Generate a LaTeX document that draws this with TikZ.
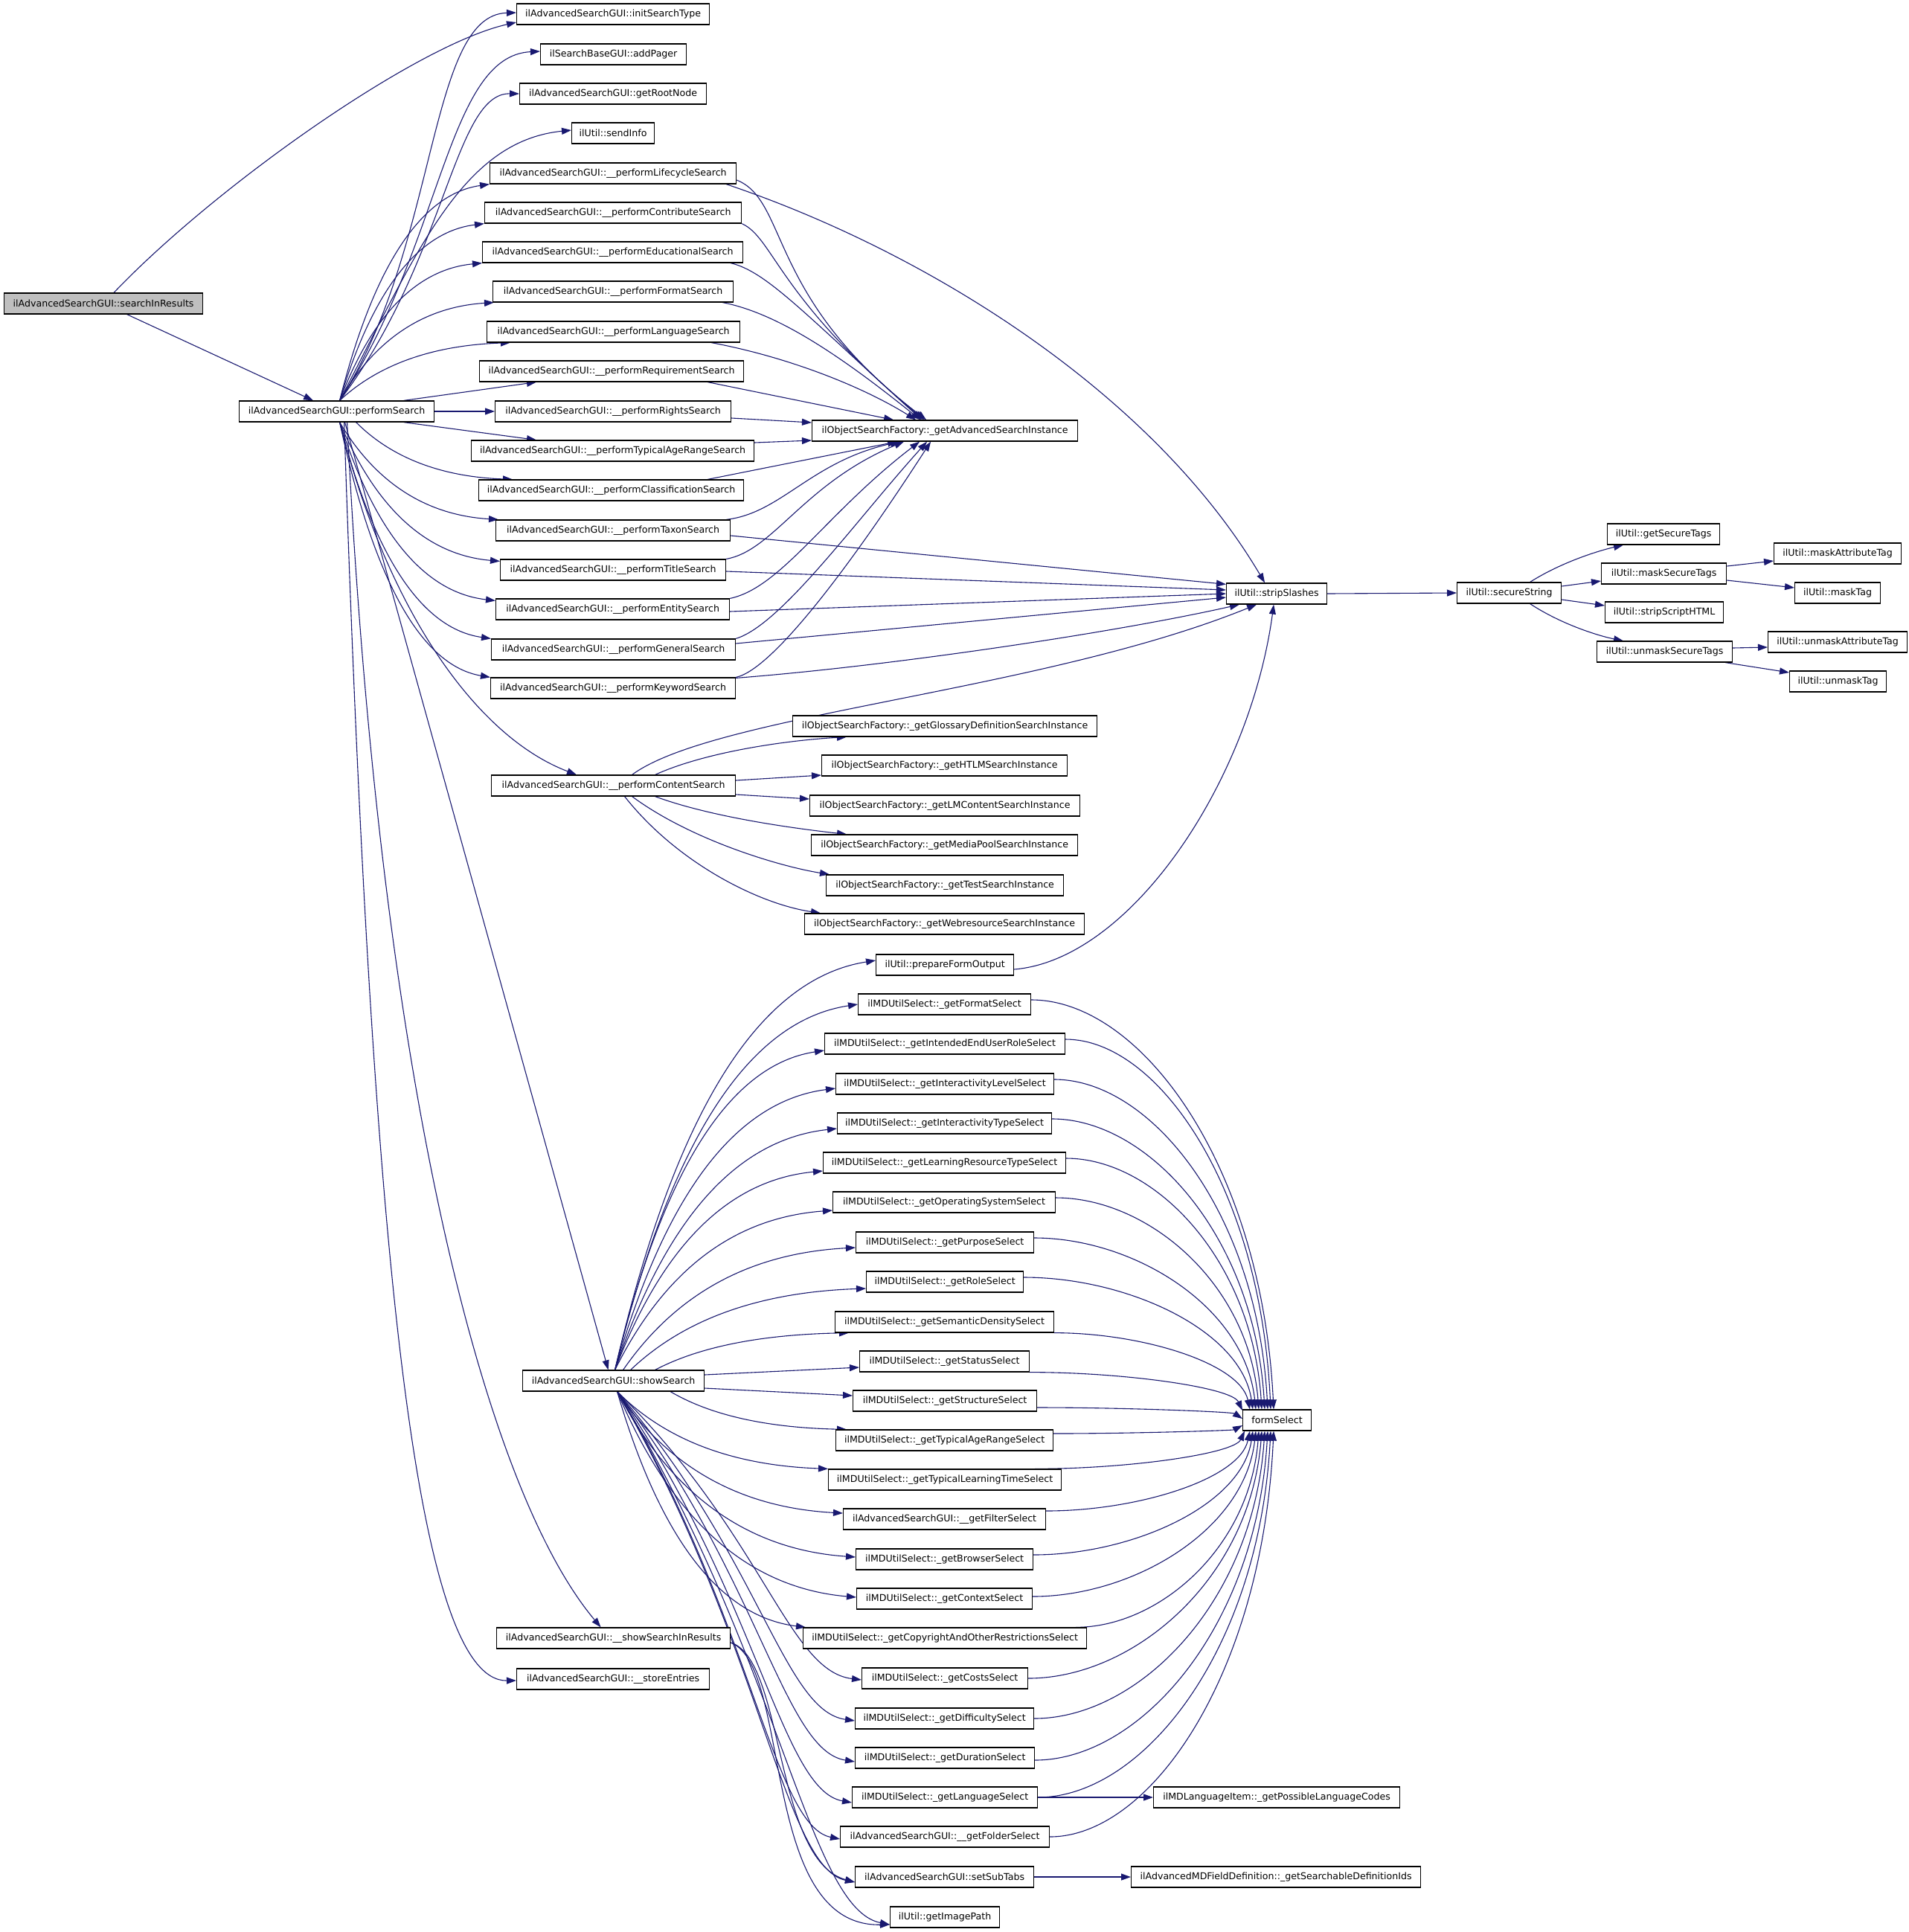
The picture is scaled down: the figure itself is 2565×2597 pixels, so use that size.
\documentclass[tikz,border=0pt]{standalone}
\usepackage{fontspec}
\setmainfont{DejaVu Sans}
\usetikzlibrary{arrows.meta, calc, backgrounds}
\definecolor{edgeblue}{HTML}{191970}
\definecolor{rootgray}{HTML}{BFBFBF}

\begin{document}
\begin{tikzpicture}[
    x=1pt, y=1pt,
    fnbox/.style={rectangle, draw=black, fill=white, line width=1.2pt, anchor=west, minimum height=28pt, inner sep=0pt, font=\fontsize{12.6}{15}\selectfont},
    rootbox/.style={fnbox, fill=rootgray},
    arrow/.style={draw=edgeblue, line width=1.1pt, -{Triangle[length=13pt,width=9pt]}},
    spline/.style n args={4}{to path={let \p1=(\tikztostart), \p2=(\tikztotarget) in
        .. controls ({\x1+#1*(\x2-\x1)},{\y1+#2*(\y2-\y1)}) and ({\x2-#3*(\x2-\x1)},{\y2-#4*(\y2-\y1)}) .. (\p2)}},
    fan/.style={spline={0.2}{0.55}{0.5}{0.05}},
    dive/.style={spline={0.6}{0.5}{0.3}{0.03}},
    drop/.style={spline={0.45}{0}{0.05}{0.6}}
]
\useasboundingbox (0,0) rectangle (2565,-2597);

% Caller and its direct callee
\node[rootbox, minimum width=267pt] (root) at (5,-408) {ilAdvancedSearchGUI::searchInResults};
\node[fnbox, minimum width=262pt] (perf) at (321,-553) {ilAdvancedSearchGUI::performSearch};

% Column 3: called by performSearch
\node[fnbox, minimum width=259pt] (initSearchType) at (694,-19) {ilAdvancedSearchGUI::initSearchType};
\node[fnbox, minimum width=196pt] (addPager) at (726,-73) {ilSearchBaseGUI::addPager};
\node[fnbox, minimum width=251pt] (getRootNode) at (698,-126) {ilAdvancedSearchGUI::getRootNode};
\node[fnbox, minimum width=111pt] (sendInfo) at (768,-179) {ilUtil::sendInfo};
\node[fnbox, minimum width=331pt] (pLifecycle) at (658,-233) {ilAdvancedSearchGUI::\_\_performLifecycleSearch};
\node[fnbox, minimum width=345pt] (pContribute) at (651,-286) {ilAdvancedSearchGUI::\_\_performContributeSearch};
\node[fnbox, minimum width=350pt] (pEducational) at (648,-339) {ilAdvancedSearchGUI::\_\_performEducationalSearch};
\node[fnbox, minimum width=323pt] (pFormat) at (662,-392) {ilAdvancedSearchGUI::\_\_performFormatSearch};
\node[fnbox, minimum width=340pt] (pLanguage) at (654,-446) {ilAdvancedSearchGUI::\_\_performLanguageSearch};
\node[fnbox, minimum width=355pt] (pRequirement) at (644,-499) {ilAdvancedSearchGUI::\_\_performRequirementSearch};
\node[fnbox, minimum width=317pt] (pRights) at (665,-553) {ilAdvancedSearchGUI::\_\_performRightsSearch};
\node[fnbox, minimum width=380pt] (pTypicalAge) at (633,-606) {ilAdvancedSearchGUI::\_\_performTypicalAgeRangeSearch};
\node[fnbox, minimum width=356pt] (pClassification) at (643,-659) {ilAdvancedSearchGUI::\_\_performClassificationSearch};
\node[fnbox, minimum width=315pt] (pTaxon) at (666,-713) {ilAdvancedSearchGUI::\_\_performTaxonSearch};
\node[fnbox, minimum width=303pt] (pTitle) at (672,-766) {ilAdvancedSearchGUI::\_\_performTitleSearch};
\node[fnbox, minimum width=314pt] (pEntity) at (666,-819) {ilAdvancedSearchGUI::\_\_performEntitySearch};
\node[fnbox, minimum width=328pt] (pGeneral) at (660,-873) {ilAdvancedSearchGUI::\_\_performGeneralSearch};
\node[fnbox, minimum width=329pt] (pKeyword) at (659,-925) {ilAdvancedSearchGUI::\_\_performKeywordSearch};
\node[fnbox, minimum width=328pt] (pContent) at (660,-1056) {ilAdvancedSearchGUI::\_\_performContentSearch};
\node[fnbox, minimum width=244pt] (showSearch) at (702,-1856) {ilAdvancedSearchGUI::showSearch};
\node[fnbox, minimum width=314pt] (showSearchInResults) at (667,-2202) {ilAdvancedSearchGUI::\_\_showSearchInResults};
\node[fnbox, minimum width=259pt] (storeEntries) at (694,-2257) {ilAdvancedSearchGUI::\_\_storeEntries};

% Column 4: factories and selects
\node[fnbox, minimum width=357pt] (advInst) at (1091,-579) {ilObjectSearchFactory::\_getAdvancedSearchInstance};
\node[fnbox, minimum width=409pt] (glossary) at (1065,-976) {ilObjectSearchFactory::\_getGlossaryDefinitionSearchInstance};
\node[fnbox, minimum width=330pt] (htlm) at (1104,-1029) {ilObjectSearchFactory::\_getHTLMSearchInstance};
\node[fnbox, minimum width=363pt] (lmContent) at (1088,-1083) {ilObjectSearchFactory::\_getLMContentSearchInstance};
\node[fnbox, minimum width=358pt] (mediaPool) at (1090,-1136) {ilObjectSearchFactory::\_getMediaPoolSearchInstance};
\node[fnbox, minimum width=319pt] (testInst) at (1110,-1190) {ilObjectSearchFactory::\_getTestSearchInstance};
\node[fnbox, minimum width=376pt] (webres) at (1081,-1242) {ilObjectSearchFactory::\_getWebresourceSearchInstance};
\node[fnbox, minimum width=185pt] (prepareOut) at (1177,-1297) {ilUtil::prepareFormOutput};
\node[fnbox, minimum width=232pt] (formatSel) at (1153,-1350) {ilMDUtilSelect::\_getFormatSelect};
\node[fnbox, minimum width=323pt] (intendedSel) at (1108,-1403) {ilMDUtilSelect::\_getIntendedEndUserRoleSelect};
\node[fnbox, minimum width=293pt] (levelSel) at (1123,-1457) {ilMDUtilSelect::\_getInteractivityLevelSelect};
\node[fnbox, minimum width=288pt] (typeSel) at (1125,-1510) {ilMDUtilSelect::\_getInteractivityTypeSelect};
\node[fnbox, minimum width=326pt] (resourceSel) at (1106,-1563) {ilMDUtilSelect::\_getLearningResourceTypeSelect};
\node[fnbox, minimum width=299pt] (osSel) at (1119,-1616) {ilMDUtilSelect::\_getOperatingSystemSelect};
\node[fnbox, minimum width=239pt] (purposeSel) at (1150,-1670) {ilMDUtilSelect::\_getPurposeSelect};
\node[fnbox, minimum width=211pt] (roleSel) at (1164,-1723) {ilMDUtilSelect::\_getRoleSelect};
\node[fnbox, minimum width=294pt] (densitySel) at (1122,-1777) {ilMDUtilSelect::\_getSemanticDensitySelect};
\node[fnbox, minimum width=228pt] (statusSel) at (1155,-1830) {ilMDUtilSelect::\_getStatusSelect};
\node[fnbox, minimum width=247pt] (structureSel) at (1146,-1883) {ilMDUtilSelect::\_getStructureSelect};
\node[fnbox, minimum width=292pt] (ageSel) at (1123,-1936) {ilMDUtilSelect::\_getTypicalAgeRangeSelect};
\node[fnbox, minimum width=313pt] (timeSel) at (1113,-1989) {ilMDUtilSelect::\_getTypicalLearningTimeSelect};
\node[fnbox, minimum width=272pt] (filterSel) at (1133,-2042) {ilAdvancedSearchGUI::\_\_getFilterSelect};
\node[fnbox, minimum width=238pt] (browserSel) at (1150,-2096) {ilMDUtilSelect::\_getBrowserSelect};
\node[fnbox, minimum width=236pt] (contextSel) at (1151,-2149) {ilMDUtilSelect::\_getContextSelect};
\node[fnbox, minimum width=381pt] (copyrightSel) at (1079,-2202) {ilMDUtilSelect::\_getCopyrightAndOtherRestrictionsSelect};
\node[fnbox, minimum width=223pt] (costsSel) at (1158,-2256) {ilMDUtilSelect::\_getCostsSelect};
\node[fnbox, minimum width=240pt] (difficultySel) at (1149,-2310) {ilMDUtilSelect::\_getDifficultySelect};
\node[fnbox, minimum width=241pt] (durationSel) at (1149,-2363) {ilMDUtilSelect::\_getDurationSelect};
\node[fnbox, minimum width=249pt] (languageSel) at (1145,-2416) {ilMDUtilSelect::\_getLanguageSelect};
\node[fnbox, minimum width=281pt] (folderSel) at (1129,-2469) {ilAdvancedSearchGUI::\_\_getFolderSelect};
\node[fnbox, minimum width=240pt] (setSubTabs) at (1149,-2523) {ilAdvancedSearchGUI::setSubTabs};
\node[fnbox, minimum width=147pt] (imagePath) at (1196,-2577) {ilUtil::getImagePath};

% Column 5 and beyond
\node[fnbox, minimum width=135pt] (stripSlashes) at (1648,-798) {ilUtil::stripSlashes};
\node[fnbox, minimum width=92pt] (formSelect) at (1670,-1909) {formSelect};
\node[fnbox, minimum width=331pt] (langCodes) at (1550,-2416) {ilMDLanguageItem::\_getPossibleLanguageCodes};
\node[fnbox, minimum width=389pt] (defIds) at (1520,-2523) {ilAdvancedMDFieldDefinition::\_getSearchableDefinitionIds};
\node[fnbox, minimum width=140pt] (secureString) at (1958,-797) {ilUtil::secureString};
\node[fnbox, minimum width=151pt] (getSecureTags) at (2160,-718) {ilUtil::getSecureTags};
\node[fnbox, minimum width=168pt] (maskSecureTags) at (2152,-771) {ilUtil::maskSecureTags};
\node[fnbox, minimum width=159pt] (stripScriptHTML) at (2157,-823) {ilUtil::stripScriptHTML};
\node[fnbox, minimum width=182pt] (unmaskSecureTags) at (2146,-876) {ilUtil::unmaskSecureTags};
\node[fnbox, minimum width=171pt] (maskAttributeTag) at (2384,-744) {ilUtil::maskAttributeTag};
\node[fnbox, minimum width=115pt] (maskTag) at (2412,-797) {ilUtil::maskTag};
\node[fnbox, minimum width=187pt] (unmaskAttributeTag) at (2376,-863) {ilUtil::unmaskAttributeTag};
\node[fnbox, minimum width=130pt] (unmaskTag) at (2405,-916) {ilUtil::unmaskTag};

\begin{scope}[on background layer]
% Arrows - searchInResults
\draw[arrow] (root) .. controls (290,-250) and (560,-60) .. ([yshift=-11pt]initSearchType.west);
\draw[arrow] (root) -- (perf);

% Arrows - performSearch, upper fan
\draw[arrow] ([xshift=4pt]perf.north) .. controls (590,-330) and (575,-20) .. ([yshift=2pt]initSearchType.west);
\draw[arrow] ([xshift=4pt]perf.north) .. controls (595,-330) and (600,-75) .. ([yshift=4pt]addPager.west);
\draw[arrow] ([xshift=4pt]perf.north) .. controls (600,-350) and (610,-125) .. (getRootNode.west);
\draw[arrow] ([xshift=4pt]perf.north) .. controls (560,-340) and (620,-190) .. ([yshift=4pt]sendInfo.west);
\draw[arrow] ([xshift=4pt]perf.north) to[fan] (pLifecycle.south west);
\draw[arrow] ([xshift=4pt]perf.north) to[fan] (pContribute.south west);
\draw[arrow] ([xshift=4pt]perf.north) to[fan] (pEducational.south west);
\draw[arrow] ([xshift=4pt]perf.north) to[fan] ([xshift=2pt]pFormat.south west);
\draw[arrow] ([xshift=4pt]perf.north) to[fan] ([xshift=32pt]pLanguage.south west);
\draw[arrow] ([xshift=90pt]perf.north) -- ([xshift=77pt]pRequirement.south west);
\draw[arrow] (perf.east) -- (pRights.west);

% Arrows - performSearch, lower fan
\draw[arrow] ([xshift=90pt]perf.south) -- ([xshift=88pt]pTypicalAge.north west);
\draw[arrow] ([xshift=26pt]perf.south) to[fan] ([xshift=46pt]pClassification.north west);
\draw[arrow] ([xshift=4pt]perf.south) to[fan] ([xshift=4pt]pTaxon.north west);
\draw[arrow] ([xshift=4pt]perf.south) to[fan] ([yshift=-3pt]pTitle.north west);
\draw[arrow] ([xshift=4pt]perf.south) to[fan] ([yshift=-3pt]pEntity.north west);
\draw[arrow] ([xshift=4pt]perf.south) to[fan] (pGeneral.north west);
\draw[arrow] ([xshift=4pt]perf.south) to[fan] (pKeyword.north west);
\draw[arrow] ([xshift=4pt]perf.south) .. controls (520,-820) and (640,-990) .. ([xshift=115pt]pContent.north west);
\draw[arrow] ([xshift=11pt]perf.south) -- ([xshift=-7pt]showSearch.north);
\draw[arrow] ([xshift=14pt]perf.south) .. controls (510,-1450) and (650,-2000) .. ([xshift=-17pt]showSearchInResults.north);
\draw[arrow] ([xshift=10pt]perf.south) .. controls (500,-1700) and (560,-2260) .. ([yshift=-2pt]storeEntries.west);

% Arrows - searches to the advanced search factory
\draw[arrow] ([yshift=-9pt]pLifecycle.east) .. controls (1060,-270) and (1030,-400) .. ([xshift=-25pt]advInst.north);
\draw[arrow] (pContribute.south east) .. controls (1040,-320) and (1045,-400) .. ([xshift=-28pt]advInst.north);
\draw[arrow] ([xshift=-17pt]pEducational.south east) .. controls (1030,-365) and (1080,-420) .. ([xshift=-31pt]advInst.north);
\draw[arrow] ([xshift=-15pt]pFormat.south east) .. controls (1040,-420) and (1120,-470) .. ([xshift=-33pt]advInst.north);
\draw[arrow] ([xshift=-39pt]pLanguage.south east) .. controls (1060,-480) and (1160,-520) .. ([xshift=-39pt]advInst.north);
\draw[arrow] ([xshift=-49pt]pRequirement.south east) -- ([xshift=-69pt]advInst.north);
\draw[arrow] ([yshift=-9pt]pRights.east) -- ([yshift=11pt]advInst.west);
\draw[arrow] ([yshift=11pt]pTypicalAge.east) -- ([yshift=-13pt]advInst.west);
\draw[arrow] ([xshift=-49pt]pClassification.north east) -- ([xshift=-64pt]advInst.south);
\draw[arrow] ([xshift=-6pt]pTaxon.north east) .. controls (1050,-690) and (1090,-620) .. ([xshift=-60pt]advInst.south);
\draw[arrow] (pTitle.north east) .. controls (1040,-740) and (1080,-650) .. ([xshift=-55pt]advInst.south);
\draw[arrow] (pEntity.north east) .. controls (1050,-790) and (1110,-690) .. ([xshift=-34pt]advInst.south);
\draw[arrow] (pGeneral.north east) .. controls (1050,-840) and (1150,-700) .. ([xshift=-24pt]advInst.south);
\draw[arrow] (pKeyword.north east) .. controls (1040,-900) and (1150,-750) .. ([xshift=-19pt]advInst.south);

% Arrows - into stripSlashes
\draw[arrow] ([xshift=-14pt]pLifecycle.south east) .. controls (1250,-340) and (1550,-530) .. ([xshift=-16pt]stripSlashes.north);
\draw[arrow] ([yshift=-7pt]pTaxon.east) -- ([yshift=-2pt]stripSlashes.north west);
\draw[arrow] ([yshift=-2pt]pTitle.east) -- ([yshift=5pt]stripSlashes.west);
\draw[arrow] ([yshift=-3pt]pEntity.east) -- (stripSlashes.west);
\draw[arrow] ([yshift=8pt]pGeneral.east) -- ([yshift=-5pt]stripSlashes.west);
\draw[arrow] ([yshift=-1pt]pKeyword.north east) .. controls (1200,-895) and (1500,-850) .. ([xshift=18pt]stripSlashes.south west);
\draw[arrow] ([xshift=25pt]pContent.north) .. controls (960,-960) and (1400,-930) .. ([xshift=-27pt]stripSlashes.south);
\draw[arrow] ([yshift=-6pt]prepareOut.east) .. controls (1520,-1290) and (1680,-1050) .. ([xshift=-4pt]stripSlashes.south);

% Arrows - content search factories
\draw[arrow] ([xshift=56pt]pContent.north) .. controls (950,-1010) and (1060,-995) .. ([xshift=73pt]glossary.south west);
\draw[arrow] ([yshift=7pt]pContent.east) -- ([yshift=-13pt]htlm.west);
\draw[arrow] ([yshift=-12pt]pContent.east) -- ([yshift=9pt]lmContent.west);
\draw[arrow] ([xshift=56pt]pContent.south) .. controls (960,-1100) and (1080,-1115) .. ([xshift=48pt]mediaPool.north west);
\draw[arrow] ([xshift=25pt]pContent.south) .. controls (930,-1130) and (1050,-1165) .. ([xshift=5pt]testInst.north west);
\draw[arrow] ([xshift=15pt]pContent.south) .. controls (910,-1160) and (1020,-1215) .. ([xshift=22pt]webres.north west);

% Arrows - showSearch fan
\draw[arrow] ([xshift=2pt]showSearch.north) to[fan] ([yshift=6pt]prepareOut.west);
\draw[arrow] ([xshift=2pt]showSearch.north) to[fan] (formatSel.west);
\draw[arrow] ([xshift=2pt]showSearch.north) to[fan] ([yshift=-9pt]intendedSel.west);
\draw[arrow] ([xshift=2pt]showSearch.north) to[fan] ([yshift=-6pt]levelSel.west);
\draw[arrow] ([xshift=2pt]showSearch.north) to[fan] ([yshift=-7pt]typeSel.west);
\draw[arrow] ([xshift=2pt]showSearch.north) to[fan] ([yshift=-11pt]resourceSel.west);
\draw[arrow] ([xshift=2pt]showSearch.north) to[fan] ([yshift=-11pt]osSel.west);
\draw[arrow] ([xshift=13pt]showSearch.north) to[fan] ([yshift=-7pt]purposeSel.west);
\draw[arrow] ([xshift=23pt]showSearch.north) to[fan] ([yshift=-9pt]roleSel.west);
\draw[arrow] ([xshift=56pt]showSearch.north) to[fan] ([xshift=19pt]densitySel.south west);
\draw[arrow] ([yshift=8pt]showSearch.east) -- ([yshift=-8pt]statusSel.west);
\draw[arrow] ([yshift=-10pt]showSearch.east) -- ([yshift=7pt]structureSel.west);
\draw[arrow] ([xshift=-46pt]showSearch.south east) to[fan] ([xshift=15pt]ageSel.north west);
\draw[arrow] ([xshift=5pt]showSearch.south) to[fan] (timeSel.north west);
\draw[arrow] ([xshift=5pt]showSearch.south) to[fan] ([yshift=8pt]filterSel.west);
\draw[arrow] ([xshift=5pt]showSearch.south) to[fan] ([yshift=3pt]browserSel.west);
\draw[arrow] ([xshift=5pt]showSearch.south) to[fan] ([yshift=2pt]contextSel.west);
\draw[arrow] ([xshift=5pt]showSearch.south) to[fan] ([xshift=4pt]copyrightSel.north west);
\draw[arrow] ([xshift=5pt]showSearch.south) to[dive] ([yshift=-2pt]costsSel.west);
\draw[arrow] ([xshift=5pt]showSearch.south) to[dive] ([yshift=-3pt]difficultySel.west);
\draw[arrow] ([xshift=5pt]showSearch.south) to[dive] ([yshift=-5pt]durationSel.west);
\draw[arrow] ([xshift=5pt]showSearch.south) to[dive] ([yshift=-7pt]languageSel.west);
\draw[arrow] ([xshift=5pt]showSearch.south) to[dive] ([yshift=-3pt]folderSel.west);
\draw[arrow] ([xshift=5pt]showSearch.south) to[dive] ([yshift=-7pt]setSubTabs.west);
\draw[arrow] ([xshift=5pt]showSearch.south) to[dive] ([yshift=-10pt]imagePath.west);

% Arrows - showSearchInResults
\draw[arrow] ([yshift=-6pt]showSearchInResults.east) .. controls (1055,-2230) and (1040,-2500) .. ([yshift=-7pt]setSubTabs.west);
\draw[arrow] ([yshift=-6pt]showSearchInResults.east) .. controls (1065,-2240) and (1020,-2590) .. ([yshift=-10pt]imagePath.west);

% Arrows - selects into formSelect
\draw[arrow] ([yshift=6pt]formatSel.east) to[drop] ([xshift=42pt]formSelect.north west);
\draw[arrow] ([yshift=6pt]intendedSel.east) to[drop] ([xshift=38pt]formSelect.north west);
\draw[arrow] ([yshift=6pt]levelSel.east) to[drop] ([xshift=34pt]formSelect.north west);
\draw[arrow] ([yshift=6pt]typeSel.east) to[drop] ([xshift=30pt]formSelect.north west);
\draw[arrow] ([yshift=6pt]resourceSel.east) to[drop] ([xshift=26pt]formSelect.north west);
\draw[arrow] ([yshift=6pt]osSel.east) to[drop] ([xshift=22pt]formSelect.north west);
\draw[arrow] ([yshift=6pt]purposeSel.east) to[drop] ([xshift=18pt]formSelect.north west);
\draw[arrow] ([yshift=6pt]roleSel.east) to[drop] ([xshift=14pt]formSelect.north west);
\draw[arrow] (densitySel.south east) to[drop] ([xshift=10pt]formSelect.north west);
\draw[arrow] (statusSel.south east) to[drop] ([yshift=13pt]formSelect.west);
\draw[arrow] ([yshift=-9pt]structureSel.east) to[drop] ([yshift=2pt]formSelect.west);
\draw[arrow] ([yshift=9pt]ageSel.east) to[drop] ([yshift=-7pt]formSelect.west);
\draw[arrow] ([xshift=-36pt]timeSel.north east) to[drop] ([xshift=3pt]formSelect.south west);
\draw[arrow] ([yshift=11pt]filterSel.east) to[drop] ([xshift=10pt]formSelect.south west);
\draw[arrow] ([yshift=6pt]browserSel.east) to[drop] ([xshift=14pt]formSelect.south west);
\draw[arrow] ([yshift=3pt]contextSel.east) to[drop] ([xshift=18pt]formSelect.south west);
\draw[arrow] ([xshift=-15pt]copyrightSel.north east) to[drop] ([xshift=22pt]formSelect.south west);
\draw[arrow] (costsSel.east) to[drop] ([xshift=26pt]formSelect.south west);
\draw[arrow] (difficultySel.east) to[drop] ([xshift=30pt]formSelect.south west);
\draw[arrow] ([yshift=-3pt]durationSel.east) to[drop] ([xshift=34pt]formSelect.south west);
\draw[arrow] (languageSel.east) to[drop] ([xshift=38pt]formSelect.south west);
\draw[arrow] (folderSel.east) to[drop] ([xshift=42pt]formSelect.south west);
\draw[arrow] (languageSel.east) -- (langCodes.west);
\draw[arrow] (setSubTabs.east) -- (defIds.west);

% Arrows - string helpers
\draw[arrow] (stripSlashes.east) -- (secureString.west);
\draw[arrow] ([xshift=28pt]secureString.north) .. controls (2100,-755) and (2150,-740) .. ([xshift=22pt]getSecureTags.south west);
\draw[arrow] ([yshift=9pt]secureString.east) -- ([yshift=-10pt]maskSecureTags.west);
\draw[arrow] ([yshift=-9pt]secureString.east) -- ([yshift=9pt]stripScriptHTML.west);
\draw[arrow] ([xshift=28pt]secureString.south) .. controls (2100,-840) and (2150,-855) .. ([xshift=36pt]unmaskSecureTags.north west);
\draw[arrow] ([yshift=10pt]maskSecureTags.east) -- ([yshift=-10pt]maskAttributeTag.west);
\draw[arrow] ([yshift=-9pt]maskSecureTags.east) -- ([yshift=7pt]maskTag.west);
\draw[arrow] ([yshift=5pt]unmaskSecureTags.east) -- ([yshift=-7pt]unmaskAttributeTag.west);
\draw[arrow] ([xshift=-10pt]unmaskSecureTags.south east) -- ([yshift=12pt]unmaskTag.west);
\end{scope}

\end{tikzpicture}
\end{document}
